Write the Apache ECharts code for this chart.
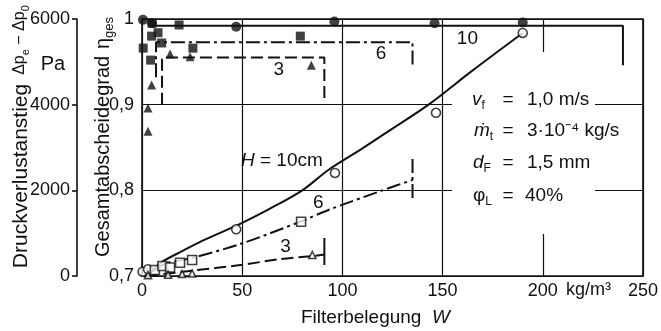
<!DOCTYPE html>
<html><head><meta charset="utf-8">
<script src="https://cdn.jsdelivr.net/npm/echarts@6/dist/echarts.min.js"></script>
<style>html,body{margin:0;padding:0;background:#fff}#c{width:661px;height:331px}</style>
</head><body><div id="c"></div>
<script>
// ---- axis ticks ----
const xTicks = [0, 50, 100, 150, 200, 250];
const etaTicks = [0.7, 0.8, 0.9, 1.0];
const paTicks = [0, 2000, 4000, 6000];

// ---- efficiency (filled markers, right scale eta_ges) ----
const eta10 = [[0.5,0.999],[5,0.995],[47,0.991],[96,0.997],[146,0.995],[190,0.996]];
const eta6 = [[0.6,0.966],[4.3,0.952],[4.8,0.980],[5,0.995],[8,0.984],[9.8,0.972],[18.5,0.993],[25.4,0.966],[79,0.980]];
const eta3 = [[3,0.869],[3,0.896],[4.8,0.923],[14,0.959],[24,0.956],[84.5,0.946]];
const eta10Line = [[5,0.992],[240,0.992],[240,0.946]];
const eta6Line = [[7,0.932],[7,0.973],[135,0.973],[135,0.947]];
const eta3Line = [[10,0.9],[10,0.955],[91,0.955],[91,0.905]];

// ---- pressure drop increase (open markers, Pa scale) ----
const dp10 = [[0.3,100],[3,156],[47,1090],[96.3,2405],[146.7,3810],[190,5674]];
const dp6 = [[6.4,140],[10.2,233],[14,200],[19,311],[25,374],[79.4,1268]];
const dp3 = [[3,20],[13,30],[20,45],[25,60],[85,490]];
const dp10Line = [[5,120],[10,330],[20,580],[30,820],[50,1240],[65,1600],[80,2000],[93,2475],[110,2980],[124,3410],[143,4000],[165,4800],[190,5674]];
const dp6Line = [[5,100],[12,296],[25,420],[50,763],[79,1268],[93,1541],[120,2000],[135,2241]];
const dp6End = [[135,1820],[135,2825]];
const dp3Line = [[2.3,0],[25,124],[50,260],[68,390],[85,467],[91,500]];
const dp3End = [[91,257],[91,887]];

// ---- curve labels ----
const etaLabels = [[68.3,0.9405,'3'],[119.3,0.960,'6'],[162.4,0.9766,'10']];
const dpLabels = [[71.6,684,'3'],[88,1705,'6'],[69.8,2685,'H = 10cm']];

const FONT = '"Liberation Sans", Arial, sans-serif';
const K = '#111';
const DASH = [12, 5];
const DASHDOT = [14, 4, 3, 4];

function line(data, yIdx, type, smooth) {
  return {type:'line', data, xAxisIndex:0, yAxisIndex:yIdx, symbol:'none', smooth: smooth || false,
    silent:true, z:2, lineStyle:{color:K, width:2, type:type}};
}
function pts(data, yIdx, symbol, size, filled) {
  return {type:'scatter', data, xAxisIndex:0, yAxisIndex:yIdx, symbol, symbolSize:size, silent:true, z:4,
    itemStyle: filled ? {color:K} : {color:'#fff', borderColor:K, borderWidth:1.6}};
}
function labels(data, yIdx) {
  return {type:'scatter', data, xAxisIndex:0, yAxisIndex:yIdx, symbol:'rect', symbolSize:1, silent:true, z:5,
    itemStyle:{color:'#fff'},
    label:{show:true, position:['50%','50%'], align:'center', verticalAlign:'middle', color:K, opacity:1,
      textBorderWidth:0, fontSize:19, fontFamily:FONT,
      formatter: p => String(p.data[2]).replace(/^H/, '{i|H}'),
      rich:{i:{fontStyle:'italic', fontSize:19, fontFamily:FONT, color:K}}}};
}

const chart = echarts.init(document.getElementById('c'));
const baseLabel = {color:K, fontSize:18, fontFamily:FONT};
chart.setOption({
  animation:false,
  backgroundColor:'#fff',
  grid:{left:142, right:15, top:19, bottom:55, show:true, borderColor:K, borderWidth:1.6, backgroundColor:'transparent'},
  xAxis:{type:'value', min:xTicks[0], max:xTicks[xTicks.length-1], interval:xTicks[1]-xTicks[0],
    axisLine:{show:false}, axisTick:{show:false},
    splitLine:{show:true, lineStyle:{color:K, width:1.2}},
    axisLabel:Object.assign({margin:6, formatter: v => String(v)}, baseLabel)},
  yAxis:[
    {type:'value', min:etaTicks[0], max:etaTicks[etaTicks.length-1], interval:0.1, position:'left',
      axisLine:{show:false}, axisTick:{show:false},
      splitLine:{show:true, lineStyle:{color:K, width:1.2}},
      axisLabel:Object.assign({margin:8, formatter: v => { const r = Math.round(v*10)/10; return r === 1 ? '1' : r.toFixed(1).replace('.', ','); }}, baseLabel)},
    {type:'value', min:paTicks[0], max:paTicks[paTicks.length-1], interval:paTicks[1]-paTicks[0], position:'left', offset:65,
      axisLine:{show:true, lineStyle:{color:K, width:1.6}},
      axisTick:{show:true, length:5, lineStyle:{color:K, width:1.6}},
      splitLine:{show:false},
      axisLabel:Object.assign({margin:7, formatter: v => String(Math.round(v))}, baseLabel)}
  ],
  graphic:[
    {type:'rect', z:1, shape:{x:452, y:52, width:143, height:182}, style:{fill:'#fff'}, silent:true},
    {type:'text', z:6, x:21, y:176, rotation:Math.PI/2,
      style:{text:'Druckverlustanstieg', fontSize:21, fontFamily:FONT, fill:K, align:'center', verticalAlign:'middle', textAlign:'center', textVerticalAlign:'middle'}},
    {type:'text', z:6, x:20, y:40, rotation:Math.PI/2,
      style:{text:'{b|Δp}{c|e}{b| − Δp}{c|0}', align:'center', verticalAlign:'middle', textAlign:'center', textVerticalAlign:'middle', fill:K,
        rich:{b:{fontSize:16, fontFamily:FONT, color:K}, c:{fontSize:11, fontFamily:FONT, color:K, verticalAlign:'bottom', lineHeight:22}}}},
    {type:'text', z:6, x:53, y:64,
      style:{text:'Pa', fontSize:20, fontFamily:FONT, fill:K, align:'center', verticalAlign:'middle', textAlign:'center', textVerticalAlign:'middle'}},
    {type:'text', z:6, x:103, y:137, rotation:Math.PI/2,
      style:{text:'{a|Gesamtabscheidegrad}  {b|η}{c|ges}', align:'center', verticalAlign:'middle', textAlign:'center', textVerticalAlign:'middle', fill:K,
        rich:{a:{fontSize:20, fontFamily:FONT, color:K}, b:{fontSize:20, fontFamily:FONT, color:K}, c:{fontSize:13, fontFamily:FONT, color:K, verticalAlign:'bottom', lineHeight:26}}}},
    {type:'text', z:6, x:301, y:318,
      style:{text:'Filterbelegung  {i|W}', fontSize:19, fontFamily:FONT, fill:K, align:'left', verticalAlign:'middle', textAlign:'left', textVerticalAlign:'middle',
        rich:{i:{fontSize:19, fontStyle:'italic', fontFamily:FONT, color:K}}}},
    {type:'text', z:6, x:566, y:290,
      style:{text:'kg/m³', fontSize:18, fontFamily:FONT, fill:K, align:'left', verticalAlign:'middle', textAlign:'left', textVerticalAlign:'middle'}},
    // parameter block
    {type:'group', z:6, children:[
      {type:'text', z:6, x:472, y:100, style:{text:'{i|v}{s|f}', fill:K, align:'left', verticalAlign:'middle', rich:{i:{fontSize:19, fontStyle:'italic', fontFamily:FONT, color:K}, s:{fontSize:12, fontFamily:FONT, color:K, verticalAlign:'bottom', lineHeight:24}}}},
      {type:'text', z:6, x:508, y:100, style:{text:'=', fontSize:19, fontFamily:FONT, fill:K, align:'center', verticalAlign:'middle'}},
      {type:'text', z:6, x:527, y:100, style:{text:'1,0 m/s', fontSize:19, fontFamily:FONT, fill:K, align:'left', verticalAlign:'middle'}},
      {type:'text', z:6, x:474, y:131, style:{text:'{i|ṁ}{s|t}', fill:K, align:'left', verticalAlign:'middle', rich:{i:{fontSize:19, fontStyle:'italic', fontFamily:FONT, color:K}, s:{fontSize:12, fontFamily:FONT, color:K, verticalAlign:'bottom', lineHeight:24}}}},
      {type:'text', z:6, x:508, y:131, style:{text:'=', fontSize:19, fontFamily:FONT, fill:K, align:'center', verticalAlign:'middle'}},
      {type:'text', z:6, x:527, y:131, style:{text:'3·10⁻⁴ kg/s', fontSize:19, fontFamily:FONT, fill:K, align:'left', verticalAlign:'middle'}},
      {type:'text', z:6, x:473, y:163, style:{text:'{i|d}{s|F}', fill:K, align:'left', verticalAlign:'middle', rich:{i:{fontSize:19, fontStyle:'italic', fontFamily:FONT, color:K}, s:{fontSize:12, fontFamily:FONT, color:K, verticalAlign:'bottom', lineHeight:24}}}},
      {type:'text', z:6, x:508, y:163, style:{text:'=', fontSize:19, fontFamily:FONT, fill:K, align:'center', verticalAlign:'middle'}},
      {type:'text', z:6, x:527, y:163, style:{text:'1,5 mm', fontSize:19, fontFamily:FONT, fill:K, align:'left', verticalAlign:'middle'}},
      {type:'text', z:6, x:473, y:196, style:{text:'{i|φ}{s|L}', fill:K, align:'left', verticalAlign:'middle', rich:{i:{fontSize:19, fontFamily:FONT, color:K}, s:{fontSize:12, fontFamily:FONT, color:K, verticalAlign:'bottom', lineHeight:24}}}},
      {type:'text', z:6, x:508, y:196, style:{text:'=', fontSize:19, fontFamily:FONT, fill:K, align:'center', verticalAlign:'middle'}},
      {type:'text', z:6, x:525, y:196, style:{text:'40%', fontSize:19, fontFamily:FONT, fill:K, align:'left', verticalAlign:'middle'}}
    ]}
  ],
  series:[
    line(eta10Line, 0, 'solid'),
    line(eta6Line, 0, DASHDOT),
    line(eta3Line, 0, DASH),
    line(dp10Line, 1, 'solid', 0.3),
    line(dp6Line, 1, DASHDOT, 0.3),
    line(dp6End, 1, DASHDOT),
    line(dp3Line, 1, DASH, 0.3),
    line(dp3End, 1, 'solid'),
    pts(eta10, 0, 'circle', 10, true),
    pts(eta6, 0, 'rect', 9, true),
    pts(eta3, 0, 'triangle', 9, true),
    pts(dp10, 1, 'circle', 9, false),
    pts(dp6, 1, 'rect', 9, false),
    pts(dp3, 1, 'triangle', 7, false),
    labels(etaLabels, 0),
    labels(dpLabels, 1)
  ]
});
</script>
</body></html>
